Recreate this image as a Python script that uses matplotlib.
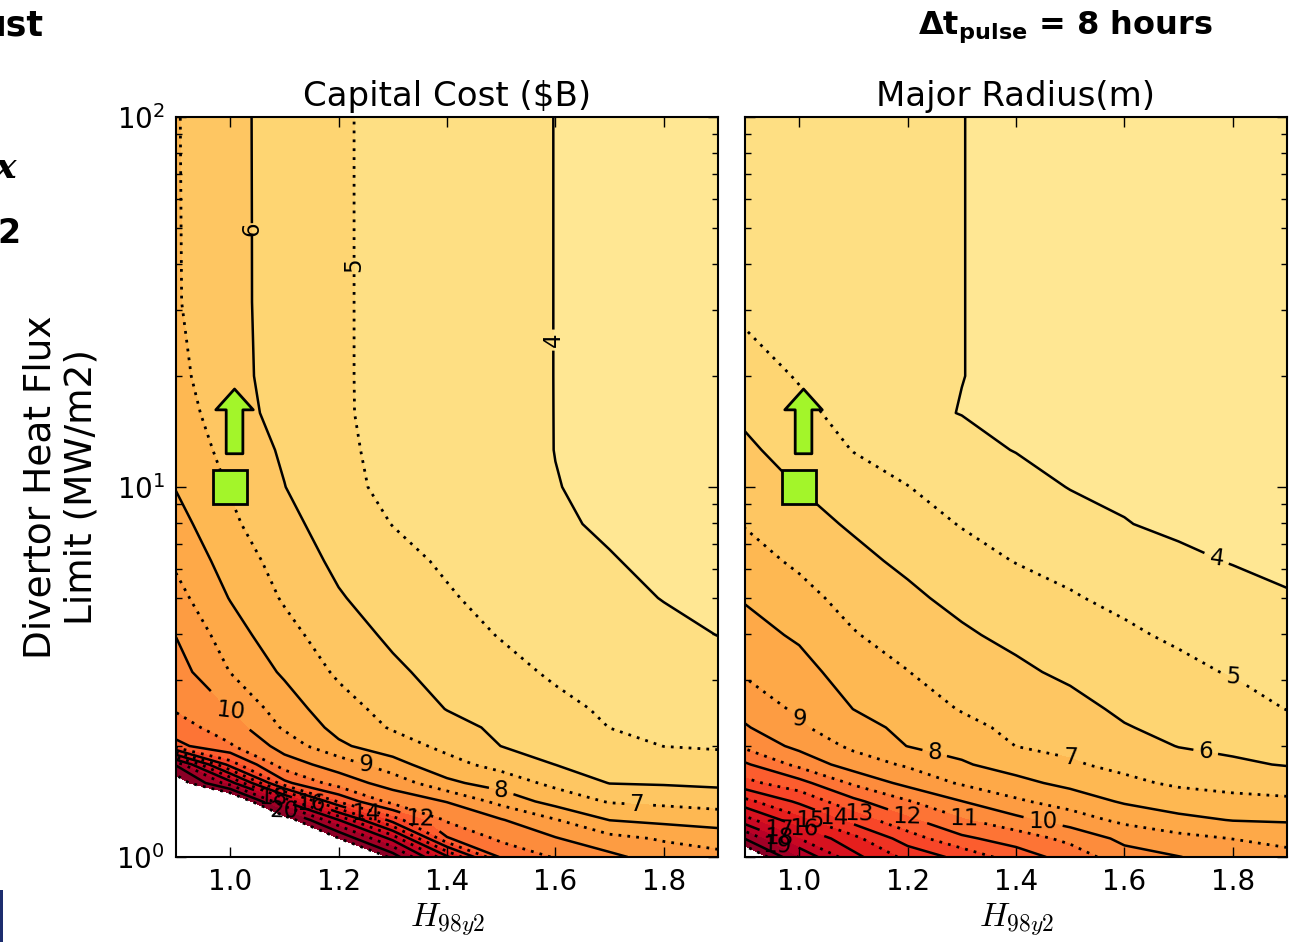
import numpy as np
import matplotlib
matplotlib.use('Agg')
import matplotlib.pyplot as plt
from matplotlib.patches import Rectangle

plt.rcParams['font.family'] = ['DejaVu Sans']
plt.rcParams['mathtext.fontset'] = 'cm'

# grid: columns are H98y2, rows are divertor heat flux limit
h98 = [0.9, 1.0, 1.1, 1.2, 1.3, 1.4, 1.5, 1.6, 1.7, 1.8, 1.9]
q_div = [1.0, 1.122, 1.259, 1.413, 1.585, 1.778, 1.995, 2.239, 2.512, 3.162,
         3.981, 5.012, 6.310, 7.943, 10.0, 12.59, 15.85, 19.95, 31.62, 100.0]

# capital cost ($B)
cost = [
    [27.0, 27.0, 26.0, 25.0, 20.6, 16.2, 11.83, 10.92, 10.25, 9.5, 9.3],
    [26.0, 26.0, 24.0, 21.05, 17.7, 12.1, 10.79, 10.07, 9.29, 8.9, 8.55],
    [25.0, 25.0, 21.8, 18.03, 13.5, 10.86, 10.07, 9.06, 7.98, 7.73, 7.55],
    [24.0, 23.0, 17.95, 12.86, 10.63, 9.96, 8.68, 7.6, 6.92, 6.76, 6.57],
    [21.8, 18.5, 12.25, 10.5, 9.6, 8.23, 7.53, 6.75, 5.97, 5.9, 5.8],
    [19.9, 13.5, 10.44, 9.59, 8.37, 7.32, 6.67, 5.99, 5.65, 5.42, 5.27],
    [12.3, 11.1, 9.61, 8.17, 7.46, 6.75, 5.99, 5.73, 5.32, 4.99, 4.93],
    [11.42, 10.5, 8.86, 7.7, 6.9, 6.33, 5.81, 5.46, 4.99, 4.86, 4.77],
    [10.9, 9.93, 8.49, 7.38, 6.66, 5.97, 5.63, 5.19, 4.89, 4.73, 4.62],
    [10.44, 8.98, 7.84, 6.84, 6.17, 5.67, 5.26, 4.88, 4.68, 4.47, 4.31],
    [9.97, 8.46, 7.32, 6.46, 5.82, 5.38, 4.95, 4.71, 4.47, 4.21, 3.99],
    [9.35, 7.95, 6.89, 6.08, 5.54, 5.08, 4.75, 4.53, 4.25, 3.97, 3.85],
    [8.81, 7.56, 6.6, 5.78, 5.26, 4.88, 4.58, 4.35, 4.04, 3.85, 3.74],
    [8.37, 7.18, 6.31, 5.49, 4.98, 4.7, 4.45, 4.1, 3.9, 3.75, 3.65],
    [7.95, 6.93, 6.02, 5.2, 4.83, 4.58, 4.35, 4.02, 3.86, 3.7, 3.6],
    [7.7, 6.67, 5.86, 5.15, 4.78, 4.52, 4.3, 3.99, 3.83, 3.67, 3.57],
    [7.45, 6.45, 5.63, 5.1, 4.76, 4.5, 4.27, 3.99, 3.8, 3.65, 3.55],
    [7.25, 6.36, 5.54, 5.1, 4.75, 4.5, 4.25, 3.99, 3.8, 3.65, 3.55],
    [7.08, 6.31, 5.54, 5.1, 4.75, 4.5, 4.25, 3.99, 3.8, 3.65, 3.55],
    [7.06, 6.3, 5.54, 5.1, 4.75, 4.5, 4.25, 3.99, 3.8, 3.65, 3.55],
]

# major radius (m)
radius = [
    [22.5, 18.9, 16.3, 14.7, 13.7, 12.5, 11.6, 10.4, 10.03, 9.6, 9.3],
    [19.95, 17.0, 15.3, 13.5, 12.2, 11.55, 10.72, 9.75, 9.29, 8.98, 8.7],
    [17.4, 15.3, 13.6, 12.2, 11.1, 10.27, 9.5, 8.75, 8.26, 7.96, 7.89],
    [15.3, 13.8, 12.25, 11.09, 10.02, 9.16, 8.55, 7.88, 7.47, 7.27, 7.17],
    [13.3, 12.35, 10.83, 9.69, 8.88, 8.28, 7.73, 7.21, 6.85, 6.67, 6.53],
    [12.15, 10.72, 9.5, 8.87, 8.11, 7.58, 7.11, 6.76, 6.39, 6.13, 5.95],
    [10.78, 9.72, 8.8, 7.98, 7.66, 6.99, 6.79, 6.4, 5.97, 5.82, 5.62],
    [10.1, 9.14, 8.39, 7.74, 7.27, 6.78, 6.53, 6.05, 5.78, 5.59, 5.29],
    [9.63, 8.82, 7.99, 7.5, 6.94, 6.58, 6.27, 5.85, 5.59, 5.36, 4.98],
    [8.87, 8.35, 7.53, 7.02, 6.53, 6.17, 5.82, 5.5, 5.22, 4.93, 4.67],
    [8.39, 7.85, 7.06, 6.61, 6.13, 5.77, 5.45, 5.15, 4.85, 4.6, 4.36],
    [7.91, 7.31, 6.66, 6.19, 5.73, 5.37, 5.08, 4.78, 4.5, 4.28, 4.05],
    [7.41, 6.82, 6.27, 5.79, 5.33, 4.97, 4.7, 4.41, 4.15, 3.96, 3.85],
    [6.94, 6.4, 5.86, 5.41, 4.95, 4.64, 4.31, 4.03, 3.85, 3.8, 3.72],
    [6.56, 5.98, 5.41, 5.02, 4.6, 4.31, 3.97, 3.85, 3.75, 3.7, 3.65],
    [6.18, 5.59, 4.97, 4.55, 4.25, 3.97, 3.85, 3.75, 3.68, 3.63, 3.58],
    [5.8, 5.2, 4.72, 4.16, 3.98, 3.9, 3.78, 3.7, 3.63, 3.58, 3.53],
    [5.42, 4.93, 4.55, 4.15, 4.01, 3.85, 3.75, 3.65, 3.6, 3.55, 3.5],
    [4.7, 4.65, 4.4, 4.15, 4.01, 3.85, 3.75, 3.65, 3.6, 3.55, 3.5],
    [4.6, 4.45, 4.3, 4.15, 4.01, 3.85, 3.75, 3.65, 3.6, 3.55, 3.5],
]

# design point marker (H98y2, heat flux)
design_h = 1.0
design_q = 10.0

fill_levels = np.arange(0, 22)
line_levels = np.arange(4, 22)

# where the inline labels sit (H98y2, heat flux)
cost_labels = {4: (1.6, 25), 5: (1.23, 40), 6: (1.04, 50), 7: (1.75, 1.4),
               8: (1.5, 1.52), 9: (1.25, 1.77), 10: (1.0, 2.45), 12: (1.35, 1.32),
               14: (1.25, 1.34), 16: (1.15, 1.38), 18: (1.08, 1.43), 20: (1.1, 1.28)}
radius_labels = {4: (1.77, 6.35), 5: (1.8, 3.0), 6: (1.75, 1.89), 7: (1.5, 1.85),
                 8: (1.25, 1.91), 9: (1.0, 2.3), 10: (1.45, 1.24), 11: (1.305, 1.26),
                 12: (1.2, 1.28), 13: (1.11, 1.315), 14: (1.065, 1.27), 15: (1.02, 1.3),
                 16: (1.01, 1.236), 17: (0.963, 1.236), 18: (0.963, 1.146), 19: (0.959, 1.077)}

GREEN = '#a3f52a'


def draw_panel(ax, z, title, labels):
    ax.contourf(h98, q_div, z, levels=fill_levels, cmap='YlOrRd')
    # one contour set per level so each label lands on its own line
    for lev in line_levels:
        if lev % 2 == 0:
            cs = ax.contour(h98, q_div, z, levels=[lev], colors='black',
                            linewidths=1.8, linestyles=['solid'])
        else:
            cs = ax.contour(h98, q_div, z, levels=[lev], colors='black',
                            linewidths=2.0, linestyles=[(0, (1, 2.2))])
        if lev in labels:
            cs.clabel(inline=True, fontsize=16.5, fmt='%d', manual=[labels[lev]])
            for txt in cs.labelTexts:
                r = txt.get_rotation() % 360
                if 240 < r < 300:
                    txt.set_rotation(r - 180)
    ax.set_yscale('log')
    ax.set_xlim(0.9, 1.9)
    ax.set_ylim(1, 100)

    # design point and the "raise the limit" arrow
    ax.annotate('', xy=(design_h + 0.008, design_q * 1.84), xytext=(design_h + 0.008, design_q * 1.23),
                arrowprops=dict(arrowstyle='simple,head_length=15,head_width=27,tail_width=12',
                                mutation_scale=1, fc=GREEN, ec='black', lw=2,
                                shrinkA=0, shrinkB=0), zorder=6)
    ax.plot(design_h, design_q, marker='s', ms=24, mfc=GREEN, mec='black', mew=2,
            zorder=7, clip_on=False)

    ax.set_title(title, fontsize=24.5, pad=8)
    ax.set_xlabel(r'$H_{98y2}$', fontsize=24)
    ax.set_xticks([1.0, 1.2, 1.4, 1.6, 1.8])
    ax.tick_params(which='both', direction='in', top=True, right=True, labelsize=20)
    ax.tick_params(which='major', length=7, width=1, pad=8)
    ax.tick_params(which='minor', length=4, width=1)
    for s in ax.spines.values():
        s.set_linewidth(1.5)


fig = plt.figure(figsize=(12.94, 9.42), dpi=100)
ax1 = fig.add_axes([176 / 1294, 85 / 942, 542 / 1294, 740 / 942])
ax2 = fig.add_axes([745 / 1294, 85 / 942, 542 / 1294, 740 / 942])

draw_panel(ax1, cost, 'Capital Cost ($B)', cost_labels)
draw_panel(ax2, radius, 'Major Radius(m)', radius_labels)
ax2.tick_params(labelleft=False)

ax1.set_ylabel('Divertor Heat Flux\nLimit (MW/m2)', fontsize=27, labelpad=12)

# bits of the surrounding slide
fig.text(0.823, 0.972, r'$\mathbf{\Delta t}_{\mathbf{pulse}}$ = 8 hours', fontsize=23,
         fontweight='bold', math_fontfamily='dejavusans', ha='center', va='center')
fig.text(-0.0147, 0.962, 'ust', fontsize=25, fontweight='bold', ha='left', va='baseline')
fig.text(-0.004, 1 - 178 / 942, 'x', fontsize=26, fontweight='bold', style='italic',
         family='DejaVu Serif', ha='left', va='baseline')
fig.text(-0.002, 1 - 243 / 942, '2', fontsize=24, fontweight='bold', ha='left', va='baseline')
fig.add_artist(Rectangle((0, 0), 3 / 1294, 52 / 942, transform=fig.transFigure,
                         color='#1c2d6e', lw=0))

fig.savefig('out.png', dpi=100)
